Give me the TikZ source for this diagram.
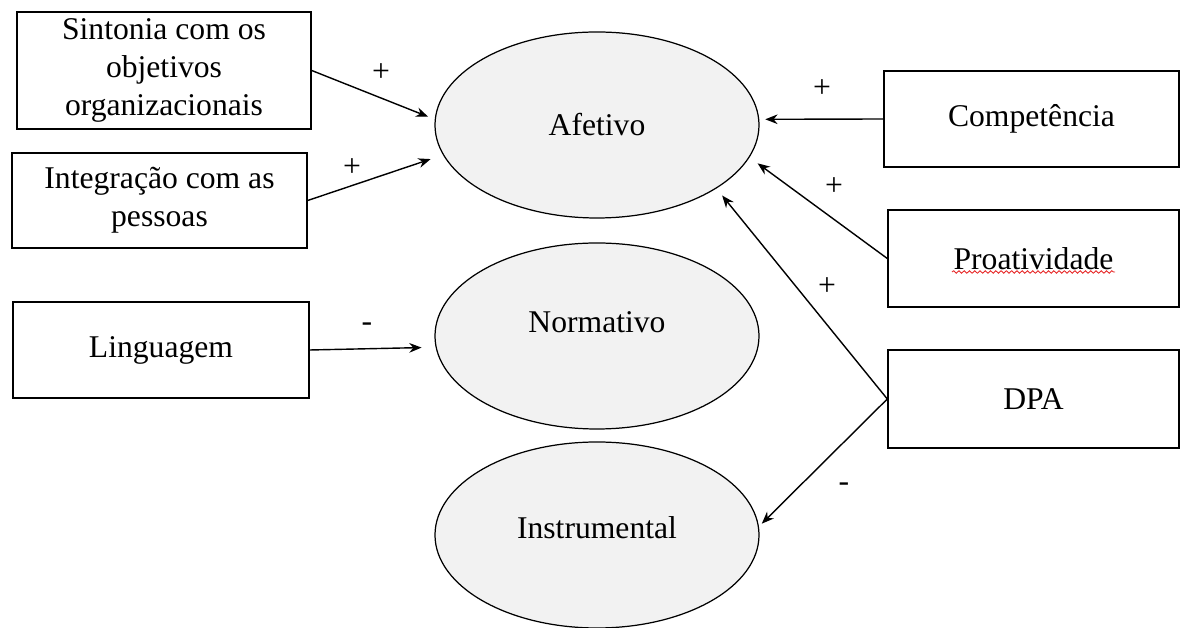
\documentclass[tikz,border=0pt]{standalone}
\usepackage{fontspec}
\setmainfont{Liberation Serif}
\usetikzlibrary{shapes.geometric, arrows.meta, positioning, decorations.pathmorphing}
\definecolor{elipcinza}{RGB}{242, 242, 242}
\definecolor{corretor}{RGB}{230, 40, 40}

\begin{document}
\begin{tikzpicture}[
  caixa/.style={draw, line width=0.8pt, minimum width=5.9cm, minimum height=1.92cm, align=center, inner sep=2pt, font=\fontsize{18}{21.5}\selectfont},
  dimensao/.style={draw, ellipse, fill=elipcinza, line width=0.7pt, minimum width=6.48cm, minimum height=3.72cm, inner sep=0pt, font=\fontsize{18}{21.5}\selectfont},
  sinal/.style={inner sep=1pt, font=\fontsize{18}{21.5}\selectfont},
  seta/.style={-{Stealth[length=7pt, width=5.5pt]}, line width=0.8pt}
]
  \useasboundingbox (0, 0) rectangle (23.6, 12.56);

  % dimensoes
  \node[dimensao] (afetivo) at (11.94, 10.06) {Afetivo};
  \node[dimensao] (normativo) at (11.94, 5.84) {\raisebox{0.56cm}{Normativo}};
  \node[dimensao] (instrumental) at (11.94, 1.86) {\raisebox{0.28cm}{Instrumental}};

  % antecedentes a esquerda
  \node[caixa, minimum width=5.88cm, minimum height=2.34cm] (sintonia) at (3.28, 11.15) {Sintonia com os\\objetivos\\organizacionais};
  \node[caixa, minimum height=1.9cm] (integracao) at (3.19, 8.55) {Integração com as\\pessoas};
  \node[caixa, minimum width=5.92cm] (linguagem) at (3.22, 5.56) {Linguagem};

  % antecedentes a direita
  \node[caixa] (competencia) at (20.63, 10.18) {Competência};
  \node[caixa, minimum width=5.82cm, minimum height=1.94cm] (proatividade) at (20.67, 7.39) {Proatividade};
  \node[caixa, minimum width=5.82cm, minimum height=1.96cm] (dpa) at (20.67, 4.58) {DPA};
  \draw[corretor, line width=0.5pt, decorate, decoration={snake, amplitude=0.7pt, segment length=3pt}]
    ([shift={(-1.63, -0.27)}]proatividade.center) -- ([shift={(1.63, -0.27)}]proatividade.center);

  \draw[seta, shorten >=0.14cm] (sintonia.east) -- (afetivo.178);
  \draw[seta, shorten >=0.26cm] (integracao.east) -- (afetivo.191);
  \draw[seta, shorten >=0.28cm] (linguagem.east) -- (normativo.184);
  \draw[seta, shorten >=0.12cm] (competencia.west) -- (afetivo.2);
  \draw[seta, shorten >=0.2cm] (proatividade.west) -- (afetivo.348);
  \draw[seta, shorten >=0.18cm] (dpa.west) -- (afetivo.332);
  \draw[seta, shorten >=0.08cm] (dpa.west) -- (instrumental.3);

  % sinais
  \node[sinal] (maisSint) at (7.62, 11.1) {+};
  \node[sinal] (maisInteg) at (7.04, 9.2) {+};
  \node[sinal] (menosLing) at (7.34, 6.02) {-};
  \node[sinal] (maisComp) at (16.44, 10.78) {+};
  \node[sinal] (maisProat) at (16.68, 8.82) {+};
  \node[sinal] (maisDpa) at (16.54, 6.82) {+};
  \node[sinal] (menosDpa) at (16.88, 2.82) {-};
\end{tikzpicture}
\end{document}
